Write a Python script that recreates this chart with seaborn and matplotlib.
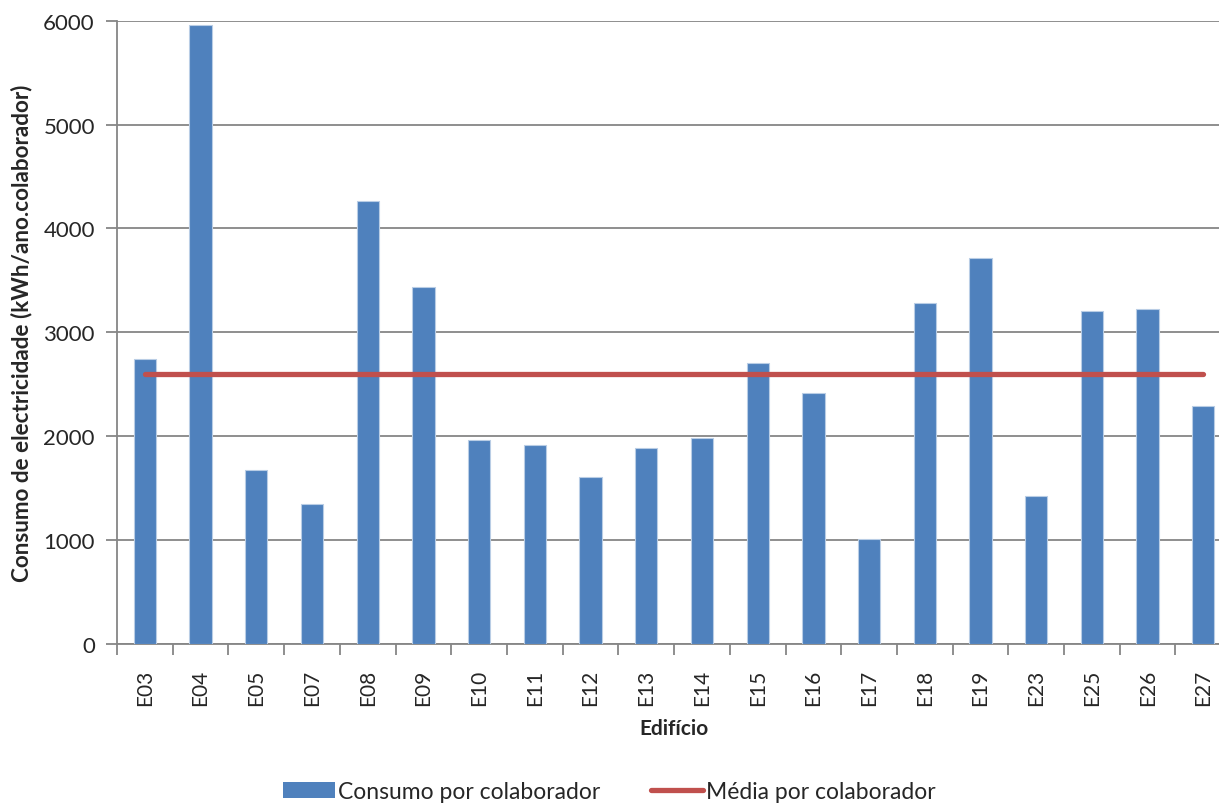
import matplotlib
matplotlib.use("Agg")
import matplotlib.pyplot as plt
from matplotlib.patches import Patch
from matplotlib.lines import Line2D
import seaborn as sns
import pandas as pd
import numpy as np

# Electricity consumption per employee, by building
edificios = ["E03", "E04", "E05", "E07", "E08", "E09", "E10", "E11", "E12", "E13",
             "E14", "E15", "E16", "E17", "E18", "E19", "E23", "E25", "E26", "E27"]
consumo = [2739, 5963, 1673, 1349, 4268, 3439, 1962, 1910, 1602, 1888,
           1978, 2704, 2415, 1009, 3282, 3712, 1419, 3209, 3228, 2292]
media = 2600

bar_color = "#4F81BD"
line_color = "#C0504D"
grid_color = "#868686"

sns.set_theme(style="white")
plt.rcParams["font.family"] = ["Lato", "DejaVu Sans"]

df = pd.DataFrame({"Edifício": edificios, "Consumo": consumo})

fig = plt.figure(figsize=(12.19, 8.04), dpi=100)
ax = fig.add_axes([0.096, 0.198, 0.914, 0.775])

sns.barplot(data=df, x="Edifício", y="Consumo", color=bar_color, saturation=1,
            width=0.4, edgecolor="#B9CDE5", linewidth=0.8, ax=ax, zorder=3)

x = np.arange(len(edificios))
ax.plot(x, [media] * len(edificios), color=line_color, lw=3.8,
        solid_capstyle="round", zorder=4)

ax.set_xlim(-0.5, len(edificios) - 0.5)
ax.set_ylim(0, 6000)
ax.set_yticks(range(0, 6001, 1000))
ax.yaxis.grid(True, color=grid_color, lw=1.3, zorder=0)
ax.set_axisbelow(True)

for side in ("top", "right"):
    ax.spines[side].set_visible(False)
for side in ("left", "bottom"):
    ax.spines[side].set_color(grid_color)
    ax.spines[side].set_linewidth(1.3)

# Ticks: y outward, x at the category boundaries
ax.tick_params(axis="y", length=8, width=1.3, color=grid_color, direction="out",
               labelsize=16, pad=8, left=True)
ax.tick_params(axis="x", which="major", length=0, labelsize=15, pad=18,
               labelrotation=90)
ax.set_xticks(np.arange(-0.5, len(edificios), 1.0), minor=True)
ax.tick_params(axis="x", which="minor", length=8, width=1.3, color=grid_color,
               direction="out", bottom=True)

ax.set_xlabel("Edifício", fontsize=15, fontweight="bold", labelpad=9)
ax.set_ylabel("Consumo de electricidade (kWh/ano.colaborador)", fontsize=16.2,
              fontweight="bold", labelpad=8)

handles = [Patch(facecolor=bar_color, edgecolor="none"),
           Line2D([0], [0], color=line_color, lw=3.8, solid_capstyle="round")]
fig.legend(handles, ["Consumo por colaborador", "Média por colaborador"],
           loc="lower center", bbox_to_anchor=(0.5, -0.025), ncol=2, frameon=False,
           fontsize=16.5, handlelength=2.27, handletextpad=0.15, columnspacing=2.2)

fig.savefig("out.png", dpi=100)
